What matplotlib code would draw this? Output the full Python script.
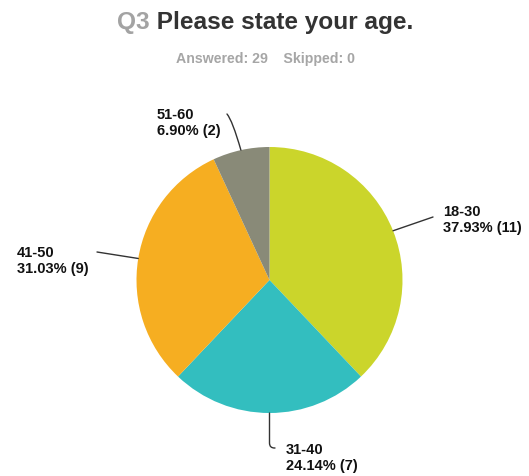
import numpy as np
import matplotlib
matplotlib.use("Agg")
import matplotlib.pyplot as plt

plt.rcParams['font.family'] = ['Liberation Sans', 'DejaVu Sans']

# data
groups = ['18-30', '31-40', '41-50', '51-60']
counts = [11, 7, 9, 2]
colors = ['#CBD52B', '#33BEBF', '#F6AE21', '#898A78']
answered = 29
skipped = 0

# layout, in pixels with y going up
W, H = 529, 476
center = (269.5, 196)
radius = 133
line_ends = [(433, 259), (275, 28), (97, 224), (227, 362)]
text_pos = [(443, 256), (286, 18), (17, 215), (157, 353)]
conn = ['arc3,rad=0', 'angle,angleA=0,angleB=90,rad=5', 'arc3,rad=0',
        'angle3,angleA=-50,angleB=106']

fig = plt.figure(figsize=(W / 100, H / 100), dpi=100)
ax = fig.add_axes([0, 0, 1, 1])

wedges, _ = ax.pie(counts, colors=colors, startangle=90, counterclock=False,
                   center=center, radius=radius, frame=True,
                   wedgeprops=dict(linewidth=0))
ax.set_xlim(0, W)
ax.set_ylim(0, H)
ax.set_aspect('equal')
ax.axis('off')

total = sum(counts)
for i, w in enumerate(wedges):
    mid = np.deg2rad((w.theta1 + w.theta2) / 2)
    px = center[0] + radius * np.cos(mid)
    py = center[1] + radius * np.sin(mid)
    ax.annotate('', xy=(px, py), xytext=line_ends[i],
                arrowprops=dict(arrowstyle='-', color='#333333', lw=1,
                                shrinkA=0, shrinkB=0, connectionstyle=conn[i]))
    pct = counts[i] / total * 100
    ax.text(text_pos[i][0], text_pos[i][1],
            f'{groups[i]}\n{pct:.2f}% ({counts[i]})',
            ha='left', va='center', fontsize=10.5, fontweight='bold',
            color='#111111', linespacing=1.1)

# title
t1 = fig.text(117 / W, 1 - 29 / H, 'Q3', fontsize=17.6, fontweight='bold',
              color='#A3A3A3', ha='left', va='baseline')
ax.annotate(' Please state your age.', xy=(1, 0), xycoords=t1,
            fontsize=17.6, fontweight='bold', color='#333333',
            ha='left', va='bottom')
fig.text(266 / W, 1 - 59 / H, f'Answered: {answered}    Skipped: {skipped}',
         fontsize=10.2, fontweight='bold', color='#A6A6A6', ha='center', va='center')

fig.savefig('out.png', dpi=100, facecolor='white')
